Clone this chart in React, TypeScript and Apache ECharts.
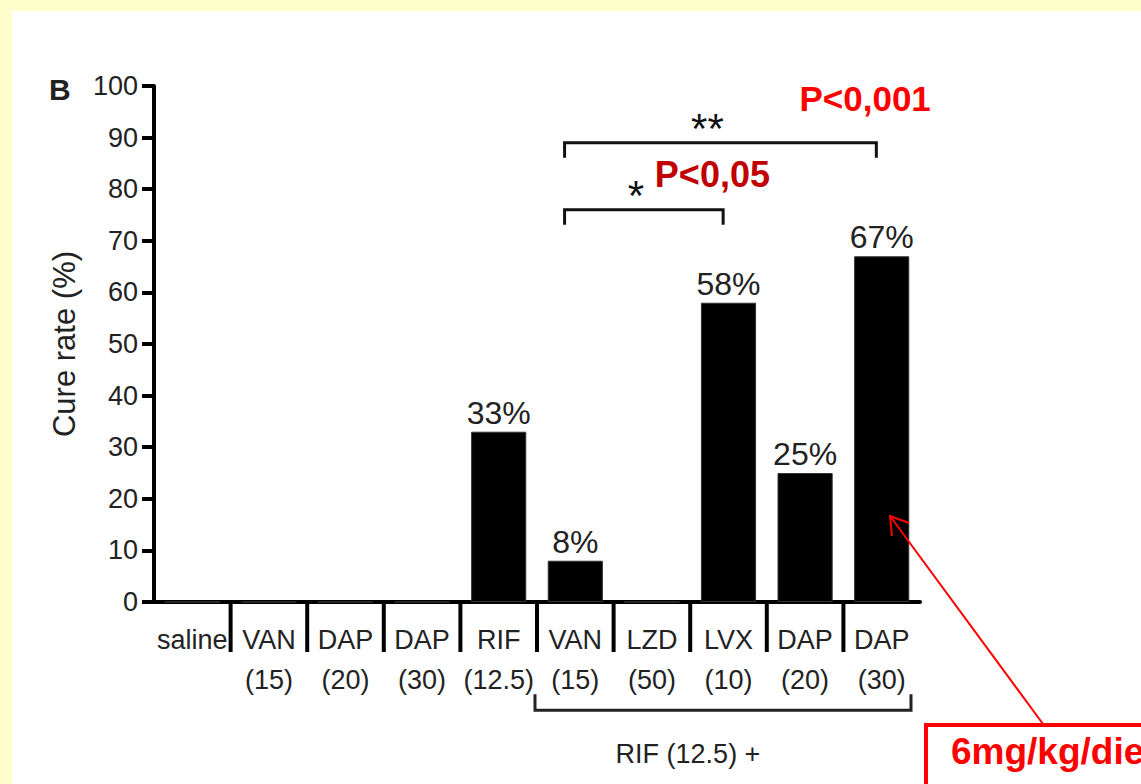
import React, { useEffect, useRef } from "react";
import * as echarts from "echarts";

// ---------- data ----------
const categories = [
  "saline",
  "VAN\n(15)",
  "DAP\n(20)",
  "DAP\n(30)",
  "RIF\n(12.5)",
  "VAN\n(15)",
  "LZD\n(50)",
  "LVX\n(10)",
  "DAP\n(20)",
  "DAP\n(30)",
];
const cureRate = [0, 0, 0, 0, 33, 8, 0, 58, 25, 67];
const yMin = 0;
const yMax = 100;
const yInterval = 10;
const yAxisName = "Cure rate (%)";
const panelLetter = "B";

// boundaries between categories that carry an x tick
const tickBoundaries = [1, 2, 3, 4, 5, 6, 7, 8, 9];

// significance comparisons: from category, to category, bracket level (%)
const comparisonFrom = [5, 5];
const comparisonTo = [7, 9];
const comparisonLevel = [76, 89];
const comparisonStars = ["*", "**"];
const comparisonP = ["P<0,05", "P<0,001"];

// combination group under the axis
const comboFrom = [5];
const comboTo = [9];
const comboLevel = [-21];
const comboLabel = ["RIF (12.5) +"];

const doseNote = "6mg/kg/die";

// ---------- styles ----------
const FONT = "'Liberation Sans', Arial, Helvetica, sans-serif";
const TXT = "#222";
const pColors = ["#c00000", "#ff0000"];
const pFontSize = [36, 35];
const starDx = [-8, -13];
const pDx = [11, 79];
const pDy = [-35, -44];

export default function App() {
  const ref = useRef<HTMLDivElement>(null);

  useEffect(() => {
    if (!ref.current) return;
    const chart = echarts.init(ref.current, undefined, { renderer: "svg" });

    const option: any = {
      animation: false,
      backgroundColor: "transparent",
      textStyle: { fontFamily: FONT },
      grid: { left: 154, right: 221, top: 86, bottom: 182, containLabel: false },
      xAxis: {
        type: "category",
        data: categories,
        axisLine: { show: true, lineStyle: { color: "#000", width: 4 } },
        axisTick: { show: false },
        axisLabel: {
          interval: 0,
          fontFamily: FONT,
          fontSize: 27,
          lineHeight: 40,
          color: TXT,
          margin: 18,
        },
        splitLine: { show: false },
      },
      yAxis: {
        type: "value",
        min: yMin,
        max: yMax,
        interval: yInterval,
        name: yAxisName,
        nameLocation: "middle",
        nameGap: 74,
        nameTextStyle: { fontFamily: FONT, fontSize: 31, color: TXT },
        axisLine: { show: true, lineStyle: { color: "#000", width: 4 } },
        axisTick: { show: true, length: 12, lineStyle: { color: "#000", width: 4 } },
        axisLabel: { fontFamily: FONT, fontSize: 27, color: TXT, margin: 16 },
        splitLine: { show: false },
      },
      series: [
        {
          type: "bar",
          data: cureRate,
          barCategoryGap: "28%",
          itemStyle: { color: "#000", borderColor: "#333", borderWidth: 1 },
          label: {
            show: true,
            position: "top",
            distance: 3,
            fontFamily: FONT,
            fontSize: 32,
            color: TXT,
            formatter: (p: any) => (p.value > 0 ? p.value + "%" : ""),
          },
          z: 3,
        },
        {
          // x-axis ticks at the inner category boundaries
          type: "custom",
          data: tickBoundaries.map((b) => [b, 0]),
          encode: { x: 0, y: 1 },
          silent: true,
          z: 4,
          renderItem: (params: any, api: any) => {
            const i = api.value(0);
            const band = api.size([1, 0])[0];
            const p = api.coord([i, 0]);
            const x = p[0] - band / 2;
            return {
              type: "line",
              shape: { x1: x, y1: p[1], x2: x, y2: p[1] + 50 },
              style: { stroke: "#000", lineWidth: 4 },
            };
          },
        },
        {
          // significance brackets
          type: "custom",
          data: comparisonFrom.map((f, k) => [f, comparisonTo[k], comparisonLevel[k]]),
          encode: { x: 0, y: 2 },
          silent: true,
          z: 4,
          renderItem: (params: any, api: any) => {
            const k = params.dataIndex;
            const band = api.size([1, 0])[0];
            const a = api.coord([api.value(0), api.value(2)]);
            const b = api.coord([api.value(1), api.value(2)]);
            const x1 = a[0] - 0.14 * band;
            const x2 = b[0] - 0.07 * band;
            const y = a[1];
            const mid = (x1 + x2) / 2;
            return {
              type: "group",
              children: [
                {
                  type: "polyline",
                  shape: { points: [[x1, y + 15], [x1, y], [x2, y], [x2, y + 15]] },
                  style: { stroke: "#111", lineWidth: 3, fill: null },
                },
                {
                  type: "text",
                  style: {
                    text: comparisonStars[k],
                    x: mid + starDx[k],
                    y: y - 14,
                    align: "center",
                    verticalAlign: "middle",
                    fontFamily: FONT,
                    fontSize: 42,
                    fill: "#111",
                  },
                },
                {
                  type: "text",
                  style: {
                    text: comparisonP[k],
                    x: mid + pDx[k],
                    y: y + pDy[k],
                    align: "left",
                    verticalAlign: "middle",
                    fontFamily: FONT,
                    fontSize: pFontSize[k],
                    fontWeight: "bold",
                    fill: pColors[k],
                  },
                },
              ],
            };
          },
        },
        {
          // combination group bracket below the axis
          type: "custom",
          data: comboFrom.map((f, k) => [f, comboTo[k], comboLevel[k]]),
          encode: { x: 0, y: 2 },
          silent: true,
          z: 4,
          renderItem: (params: any, api: any) => {
            const k = params.dataIndex;
            const band = api.size([1, 0])[0];
            const a = api.coord([api.value(0), api.value(2)]);
            const b = api.coord([api.value(1), api.value(2)]);
            const x1 = a[0] - band / 2 - 2;
            const x2 = b[0] + band / 2 - 9;
            const y = a[1];
            return {
              type: "group",
              children: [
                {
                  type: "polyline",
                  shape: { points: [[x1, y - 16], [x1, y], [x2, y], [x2, y - 16]] },
                  style: { stroke: "#222", lineWidth: 3, fill: null },
                },
                {
                  type: "text",
                  style: {
                    text: comboLabel[k],
                    x: (x1 + x2) / 2 - 35,
                    y: y + 44,
                    align: "center",
                    verticalAlign: "middle",
                    fontFamily: FONT,
                    fontSize: 27,
                    fill: TXT,
                  },
                },
              ],
            };
          },
        },
      ],
      graphic: [
        {
          type: "text",
          left: 49,
          top: 74,
          style: {
            text: panelLetter,
            fontFamily: FONT,
            fontSize: 30,
            fontWeight: "bold",
            fill: TXT,
          },
        },
        {
          type: "rect",
          shape: { x: 926, y: 725, width: 300, height: 120 },
          style: { fill: "#fff", stroke: "#ff0000", lineWidth: 4 },
          z: 10,
        },
        {
          type: "text",
          x: 951,
          y: 751,
          style: {
            text: doseNote,
            fontFamily: FONT,
            fontSize: 37,
            fontWeight: "bold",
            fill: "#ff0000",
            verticalAlign: "middle",
          },
          z: 11,
        },
        {
          type: "line",
          shape: { x1: 1043, y1: 724, x2: 890, y2: 516 },
          style: { stroke: "#ff0000", lineWidth: 2 },
          z: 10,
        },
        {
          type: "polyline",
          shape: { points: [[909, 523], [890, 516], [892, 536]] },
          style: { stroke: "#ff0000", lineWidth: 2, fill: null },
          z: 10,
        },
      ],
    };

    chart.setOption(option);
    return () => chart.dispose();
  }, []);

  return (
    <div
      style={{
        position: "fixed",
        left: 0,
        top: 0,
        width: 1141,
        height: 784,
        background: "#ffffcc",
        overflow: "hidden",
      }}
    >
      <div
        style={{
          position: "absolute",
          left: 12,
          top: 11,
          right: 0,
          bottom: 0,
          background: "#ffffff",
        }}
      />
      <div
        ref={ref}
        style={{ position: "absolute", left: 0, top: 0, width: 1141, height: 784 }}
      />
    </div>
  );
}
